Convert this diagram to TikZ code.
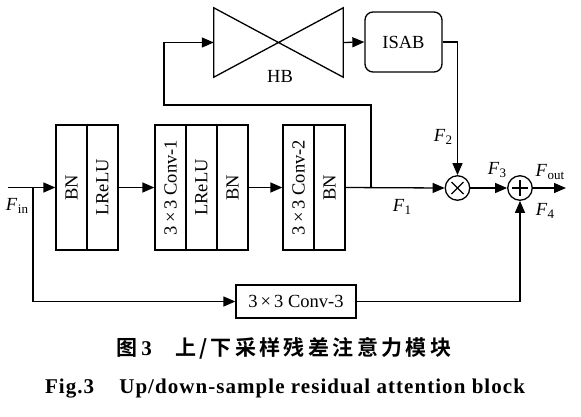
\documentclass[tikz,border=0pt]{standalone}
\usepackage{fontspec}
\setmainfont{Liberation Serif}
\newfontfamily\cjk[LetterSpace=16]{Noto Sans CJK SC Bold}
\newfontfamily\capfont[LetterSpace=5]{Liberation Serif Bold}
\usetikzlibrary{arrows.meta,positioning,calc}
\newcommand{\FF}[1]{\textit{F}\kern0.5pt\raisebox{-0.35ex}{\fontsize{13}{14}\selectfont #1}}
\begin{document}
\begin{tikzpicture}[x=1pt,y=-1pt,
  lw/.style={line width=1.3pt},
  arr/.style={lw,-{Triangle[length=12pt,width=10pt]}},
  col/.style={draw,lw,minimum width=31pt,minimum height=125pt,inner sep=0pt},
  circ/.style={draw,lw,circle,minimum size=24.5pt,inner sep=0pt},
  lab/.style={inner sep=0pt},
  font=\fontsize{18.5}{20}\selectfont]
\useasboundingbox (0,0) rectangle (581,416);
% main blocks
\node[col] (b1a) at (71.5,187.5) {\rotatebox{90}{BN}};
\node[col] (b1b) at (102.5,187.5) {\rotatebox{90}{LReLU}};
\node[col] (b2a) at (170.5,187.5) {\rotatebox{90}{3\,×\,3 Conv-1}};
\node[col] (b2b) at (201.5,187.5) {\rotatebox{90}{LReLU}};
\node[col] (b2c) at (232.5,187.5) {\rotatebox{90}{BN}};
\node[col] (b3a) at (298.5,187.5) {\rotatebox{90}{3\,×\,3 Conv-2}};
\node[col] (b3b) at (329.5,187.5) {\rotatebox{90}{BN}};
% HB bowtie
\node[minimum width=129pt,minimum height=69pt,inner sep=0pt] (hb) at (278.5,42.5) {};
\draw[lw,line join=miter] (hb.north west) -- (hb.south east) -- (hb.north east) -- (hb.south west) -- cycle;
\node[lab] (hbl) at (280,76) {HB};
% ISAB
\node[draw,lw,rounded corners=8pt,minimum width=77pt,minimum height=60pt] (isab) at (403.5,42) {ISAB};
% operators
\node[circ] (mul) at (457.5,188) {};
\draw[lw] ($(mul)+(-6,-6)$) -- ($(mul)+(6,6)$);
\draw[lw] ($(mul)+(-6,6)$) -- ($(mul)+(6,-6)$);
\node[circ] (add) at (520,188) {};
\draw[lw] ($(add)+(-8,0)$) -- ($(add)+(8,0)$);
\draw[lw] ($(add)+(0,-8)$) -- ($(add)+(0,8)$);
% conv-3
\node[draw,lw,minimum width=120pt,minimum height=33pt] (c3) at (296,301.5) {3\,×\,3 Conv-3};
% coordinates
\coordinate (fin) at (8,187.5);
\coordinate (br) at (33,187.5);
\coordinate (br2) at (371,187.5);
\coordinate (out) at (566,188);
% connectors
\draw[lw] (fin) -- (br);
\draw[arr] (br) -- (b1a.west);
\draw[arr] (b1b.east) -- (b2a.west);
\draw[arr] (b2c.east) -- (b3a.west);
\draw[arr] (b3b.east) -- (mul.west);
\draw[arr] (br2) -- (371,105) -- (164,105) -- (164,42.5) -- (hb.west);
\draw[arr] (hb.east) -- (isab.west);
\draw[arr] (isab.east) -| (mul.north);
\draw[arr] (mul.east) -- (add.west);
\draw[arr] (add.east) -- (out);
\draw[arr] (br) |- (c3.west);
\draw[arr] (c3.east) -| (add.south);
% labels
\node[lab] (lfin) at (17,206) {\FF{in}};
\node[lab] (lf1) at (402,207) {\FF{1}};
\node[lab] (lf2) at (443,137) {\FF{2}};
\node[lab] (lf3) at (497,170) {\FF{3}};
\node[lab] (lfo) at (550,172) {\FF{out}};
\node[lab] (lf4) at (545,211) {\FF{4}};
% caption
\node[lab] (cap1) at (284,348) {\fontsize{21}{24}\selectfont{\cjk 图}\,{\capfont 3}\hspace{1.1em}{\cjk 上/下采样残差注意力模块}};
\node[lab] (cap2) at (285,389) {\fontsize{21}{24}\selectfont\capfont Fig.3\hspace{1.2em}Up/down-sample residual attention block};
\end{tikzpicture}
\end{document}
